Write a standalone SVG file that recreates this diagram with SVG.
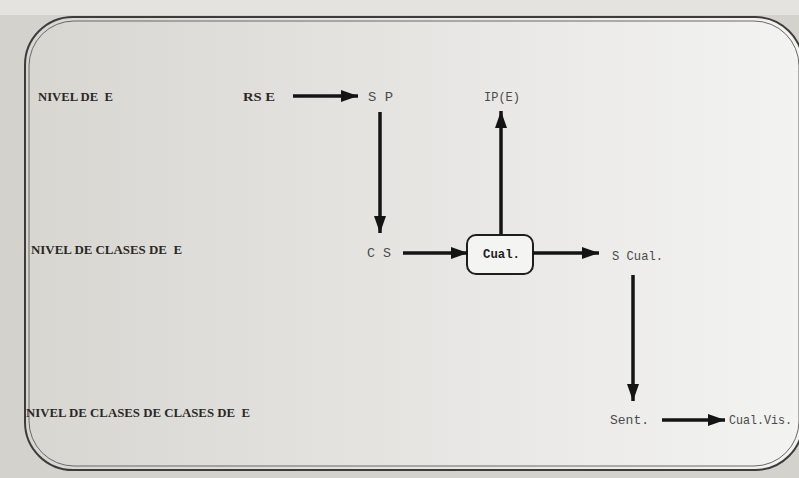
<svg xmlns="http://www.w3.org/2000/svg" width="799" height="478" viewBox="0 0 799 478">
  <style>
    text { white-space: pre; }
    .lvl { font-family: "Liberation Serif", "DejaVu Serif", serif; font-weight: bold; font-size: 12px; fill: #2a2826; }
    .lbl { font-family: "Liberation Mono", "DejaVu Sans Mono", monospace; font-size: 13px; fill: #4a4a4a; }
    .box-lbl { font-family: "Liberation Mono", "DejaVu Sans Mono", monospace; font-weight: bold; font-size: 13px; fill: #1e1e1e; }
    .conn { stroke: #141414; stroke-width: 3.5; fill: none; marker-end: url(#ah); }
  </style>
  <defs>
    <marker id="ah" markerUnits="userSpaceOnUse" markerWidth="17" markerHeight="12" refX="17" refY="6" orient="auto">
      <path d="M0,0 L17,6 L0,12 z" fill="#141414"/>
    </marker>
    <linearGradient id="bg" x1="0" y1="0" x2="1" y2="0">
      <stop offset="0" stop-color="#d8d6d1"/>
      <stop offset="0.5" stop-color="#e6e5e2"/>
      <stop offset="1" stop-color="#f3f3f2"/>
    </linearGradient>
  </defs>
  <rect x="0" y="0" width="799" height="478" fill="#d4d2cd"/>
  <rect x="0" y="0" width="799" height="15" fill="#e4e3e0"/>
  <g id="frame">
    <rect x="25" y="17" width="778" height="453" rx="48" ry="48" fill="url(#bg)" stroke="#3e3c3a" stroke-width="2"/>
    <rect x="29" y="21" width="770" height="445" rx="45" ry="45" fill="none" stroke="#6a6866" stroke-width="1"/>
  </g>
  <g id="levels">
    <text class="lvl" x="38" y="101" textLength="75" lengthAdjust="spacingAndGlyphs">NIVEL DE  E</text>
    <text class="lvl" x="31" y="254" textLength="151" lengthAdjust="spacingAndGlyphs">NIVEL DE CLASES DE  E</text>
    <text class="lvl" x="26" y="417" textLength="224" lengthAdjust="spacingAndGlyphs">NIVEL DE CLASES DE CLASES DE  E</text>
  </g>
  <g id="rse"><text class="lvl" x="243" y="101" textLength="32" lengthAdjust="spacingAndGlyphs">RS E</text></g>
  <g id="sp"><text class="lbl" x="368" y="101" textLength="25" lengthAdjust="spacingAndGlyphs">S P</text></g>
  <g id="ipe"><text class="lbl" x="484" y="101" textLength="36" lengthAdjust="spacingAndGlyphs">IP(E)</text></g>
  <g id="cs"><text class="lbl" x="367" y="257" textLength="24" lengthAdjust="spacingAndGlyphs">C S</text></g>
  <g id="cual">
    <rect x="467" y="235" width="66" height="39" rx="9" ry="9" fill="#f4f4f3" stroke="#1e1e1e" stroke-width="2"/>
    <text class="box-lbl" x="483" y="258" textLength="37" lengthAdjust="spacingAndGlyphs">Cual.</text>
  </g>
  <g id="scual"><text class="lbl" x="612" y="260" textLength="51" lengthAdjust="spacingAndGlyphs">S Cual.</text></g>
  <g id="sent"><text class="lbl" x="610" y="424" textLength="39" lengthAdjust="spacingAndGlyphs">Sent.</text></g>
  <g id="cualvis"><text class="lbl" x="729" y="424" textLength="63" lengthAdjust="spacingAndGlyphs">Cual.Vis.</text></g>
  <g id="connectors">
    <line class="conn" x1="293" y1="96" x2="358" y2="96"/>
    <line class="conn" x1="380" y1="112" x2="380" y2="233"/>
    <line class="conn" x1="403" y1="253" x2="468" y2="253"/>
    <line class="conn" x1="501" y1="234" x2="501" y2="111"/>
    <line class="conn" x1="533" y1="253" x2="599" y2="253"/>
    <line class="conn" x1="633" y1="275" x2="633" y2="401"/>
    <line class="conn" x1="662" y1="420" x2="725" y2="420"/>
  </g>
</svg>
